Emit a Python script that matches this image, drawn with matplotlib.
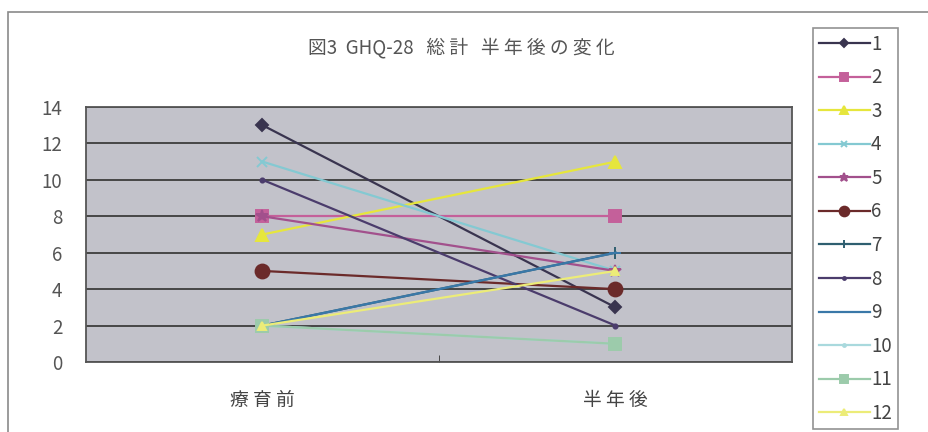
"""
図3 GHQ-28 総計 半年後の変化 — 12 subjects, before / 6 months after.
"""

import matplotlib

matplotlib.use("Agg")
import matplotlib.pyplot as plt
from matplotlib.patches import Rectangle

plt.rcParams["font.family"] = ["Noto Sans CJK JP", "DejaVu Sans"]

TITLE = "図3  GHQ-28   総 計   半 年 後 の 変 化"
CATEGORIES = ["療 育 前", "半 年 後"]
SERIES_NAMES = [str(i) for i in range(1, 13)]

# GHQ-28 totals (before, after) per subject
S1 = [13, 3]
S2 = [8, 8]
S3 = [7, 11]
S4 = [11, 5]
S5 = [8, 5]
S6 = [5, 4]
S7 = [2, 6]
S8 = [10, 2]
S9 = [2, 6]
S10 = [2, 1]
S11 = [2, 1]
S12 = [2, 5]
SERIES = [S1, S2, S3, S4, S5, S6, S7, S8, S9, S10, S11, S12]

Y_TICKS = [0, 2, 4, 6, 8, 10, 12, 14]

# scanned Excel-2003 style palette (washed out)
COLORS = ["#39344f", "#c4609a", "#e6e63c", "#84c9d2", "#a2508c", "#6b2a2a",
          "#2f5f70", "#4b3c6c", "#3a78a8", "#a9d9dd", "#9ccbab", "#ecec78"]
MARKERS = ["D", "s", "^", "x", "*", "o", "+", ".", "_", ".", "s", "^"]
MSIZES = [6, 9, 8, 7, 9, 10, 9, 6, 9, 6, 8, 6]

W, H = 929, 432
fig = plt.figure(figsize=(W / 100, H / 100), dpi=100)
fig.patch.set_facecolor("white")

# outer chart frame (only top and left edges visible in the crop)
fig.patches.append(Rectangle((8 / W, -0.2), 1.2, 1.2 - 12 / H, transform=fig.transFigure,
                             fill=False, edgecolor="#8a8a8a", linewidth=1.2))

ax = fig.add_axes([86 / W, 1 - 362 / H, (792 - 86) / W, (362 - 107) / H])
ax.set_facecolor("#c2c2ca")
x = list(range(len(CATEGORIES)))

handles = []
for name, vals, c, m, ms in zip(SERIES_NAMES, SERIES, COLORS, MARKERS, MSIZES):
    h, = ax.plot(x, vals, color=c, linewidth=1.6, marker=m, markersize=ms,
                 markerfacecolor=c, markeredgecolor=c, markeredgewidth=1.4,
                 label=name, zorder=3)
    handles.append(h)

ax.set_xlim(-0.5, 1.5)
ax.set_ylim(0, 14)
ax.set_yticks(Y_TICKS)
ax.set_yticklabels([str(v) for v in Y_TICKS], fontsize=13.5, color="#555555")
ax.set_xticks(x)
ax.set_xticklabels(CATEGORIES, fontsize=13.5, color="#444444")
ax.set_xticks([0.5], minor=True)
ax.tick_params(axis="y", length=0, pad=17)
ax.tick_params(axis="x", which="major", length=0, pad=20)
ax.tick_params(axis="x", which="minor", direction="in", length=5, color="#333333")
ax.grid(axis="y", color="#3c3c3c", linewidth=1.3, zorder=1)
ax.set_axisbelow(True)
for sp in ax.spines.values():
    sp.set_color("#555555")
    sp.set_linewidth(1.3)

fig.text(461 / W, 1 - 48 / H, TITLE, ha="center", va="center", fontsize=13.5, color="#555555")

leg = fig.legend(handles=handles, loc="upper left", bbox_to_anchor=(813 / W, 1 - 28 / H),
                 fontsize=13.5, frameon=True, fancybox=False, edgecolor="#777777",
                 labelspacing=0.67, handlelength=2.75, handletextpad=0.05,
                 borderpad=0.3, borderaxespad=0, markerscale=0.7)
leg.get_frame().set_linewidth(1.2)
for t in leg.get_texts():
    t.set_color("#444444")

fig.savefig("out.png", dpi=100)
